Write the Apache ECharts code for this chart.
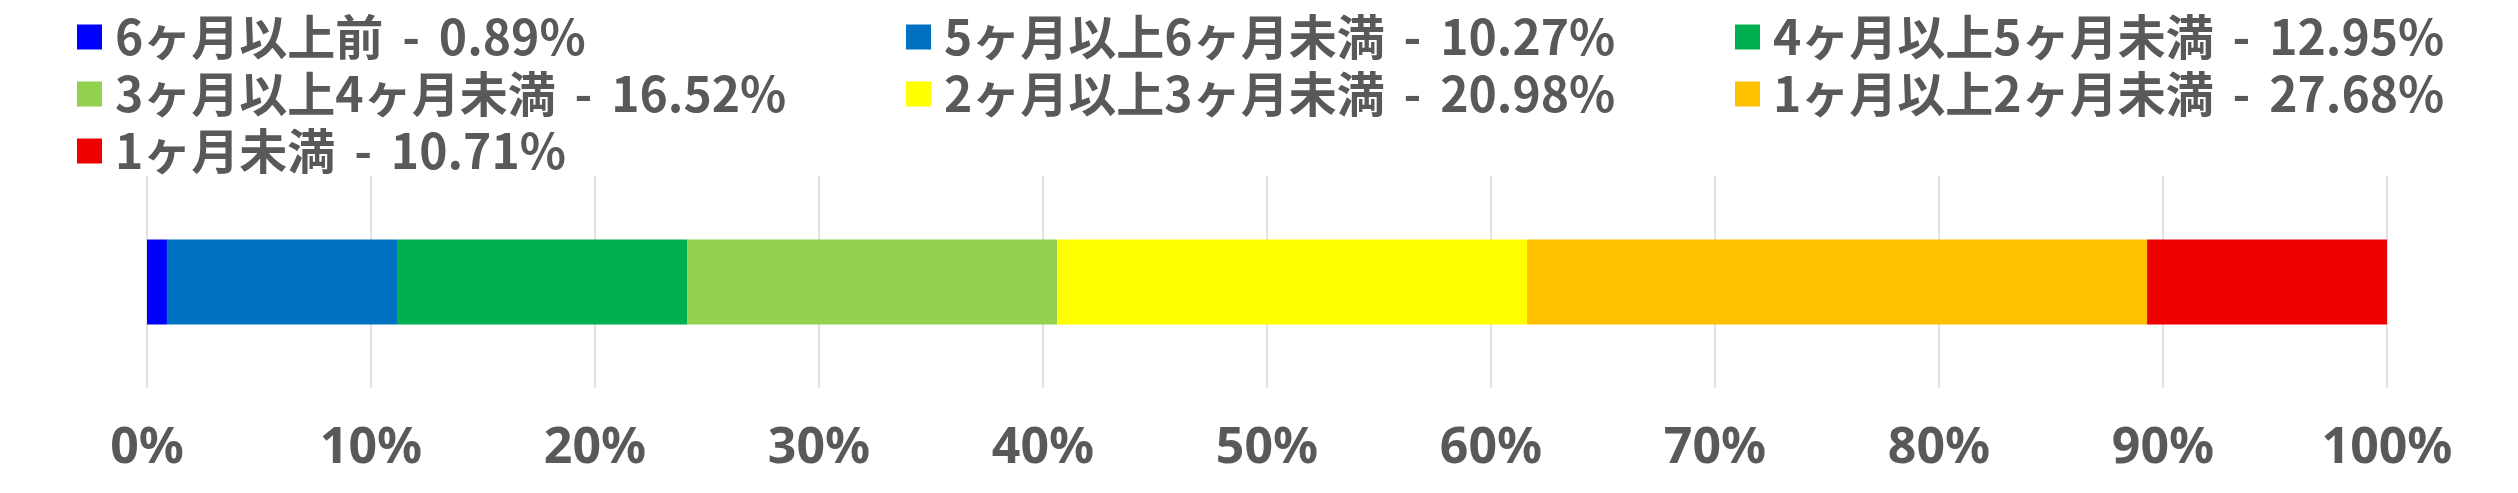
<!DOCTYPE html>
<html>
<head>
<meta charset="utf-8">
<script src="https://cdn.jsdelivr.net/npm/echarts@6/dist/echarts.min.js"></script>
<style>
  html, body { margin: 0; padding: 0; background: #fff; }
  #main { width: 2518px; height: 493px; }
</style>
</head>
<body>
<div id="main"></div>
<script>
var names = ['6ヶ月以上前', '5ヶ月以上6ヶ月未満', '4ヶ月以上5ヶ月未満', '3ヶ月以上4ヶ月未満',
             '2ヶ月以上3ヶ月未満', '1ヶ月以上2ヶ月未満', '1ヶ月未満'];
var values = [0.89, 10.27, 12.95, 16.52, 20.98, 27.68, 10.71];
var colors = ['#0000FF', '#0070C0', '#00B050', '#92D050', '#FFFF00', '#FFC000', '#EE0000'];
var tickLabels = ['0%', '10%', '20%', '30%', '40%', '50%', '60%', '70%', '80%', '90%', '100%'];

var chart = echarts.init(document.getElementById('main'));

function legendAt(left, items) {
  return {
    orient: 'vertical',
    left: left,
    top: 12,
    padding: 0,
    itemGap: 7,
    itemWidth: 25,
    itemHeight: 25,
    icon: 'rect',
    data: items,
    selectedMode: false,
    formatter: function (n) {
      return n + ' \u2006-\u2006 ' + values[names.indexOf(n)].toFixed(2) + '%';
    },
    textStyle: {
      fontFamily: 'Noto Sans CJK JP',
      fontWeight: 'bold',
      fontSize: 48,
      lineHeight: 50,
      color: '#595959',
      padding: [0, 0, 0, 8]
    }
  };
}

var series = names.map(function (n, i) {
  return {
    name: n,
    type: 'bar',
    stack: 'total',
    barWidth: '40%',
    itemStyle: { color: colors[i] },
    data: [values[i]]
  };
});

chart.setOption({
  animation: false,
  legend: [
    legendAt(77, [names[0], names[3], names[6]]),
    legendAt(906, [names[1], names[4]]),
    legendAt(1735, [names[2], names[5]])
  ],
  grid: { left: 147, right: 131, top: 176, bottom: 105 },
  xAxis: {
    type: 'value',
    min: 0,
    max: 100,
    interval: 10,
    axisLine: { show: false },
    axisTick: { show: false },
    splitLine: { lineStyle: { color: '#D9D9D9', width: 1.5 } },
    axisLabel: {
      margin: 35,
      fontFamily: 'Noto Sans',
      fontWeight: 'bold',
      fontSize: 50,
      lineHeight: 52,
      color: '#595959',
      formatter: function (v) { return tickLabels[Math.round(v / 10)]; }
    }
  },
  yAxis: {
    type: 'category',
    data: [''],
    show: false
  },
  series: series
});
</script>
</body>
</html>
